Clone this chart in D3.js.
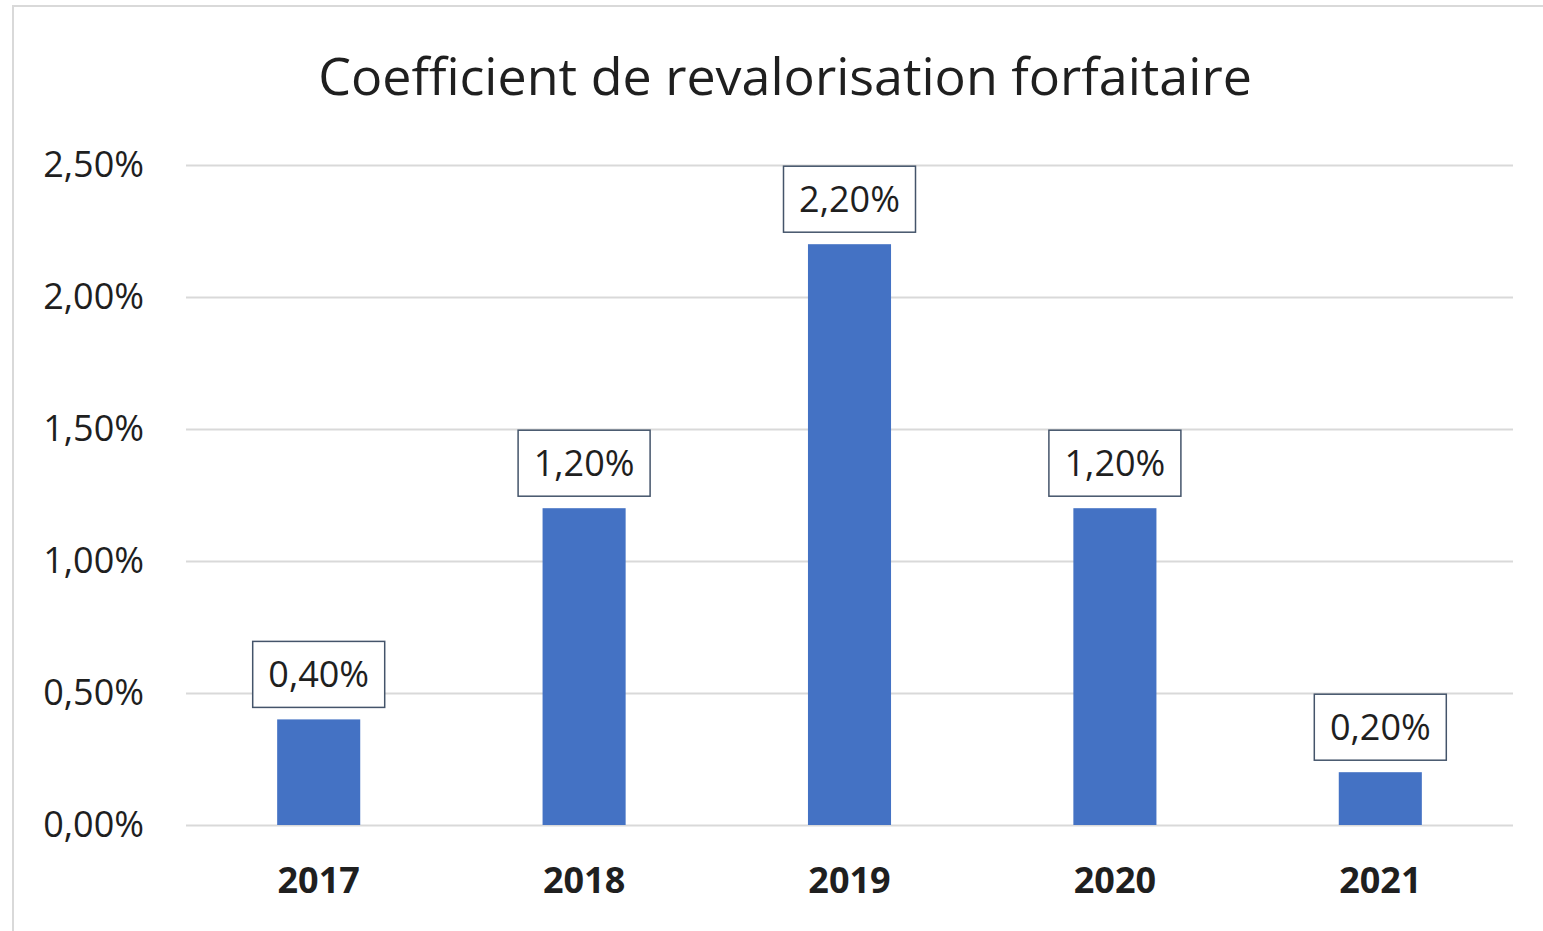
<!DOCTYPE html>
<html>
<head>
<meta charset="utf-8">
<script src="https://cdn.jsdelivr.net/npm/d3@7"></script>
<style>
  body { margin: 0; background: #fff; }
  text { font-family: "Open Sans", sans-serif; fill: #1f1f1f; }
</style>
</head>
<body>
<div id="chart"></div>
<script>
const TITLE = "Coefficient de revalorisation forfaitaire"
const years = ["2017", "2018", "2019", "2020", "2021"]
const values = [0.004, 0.012, 0.022, 0.012, 0.002]
const yTicks = [0, 0.005, 0.01, 0.015, 0.02, 0.025]

const W = 1543
const H = 931
const PLOT = { LEFT: 186, RIGHT: 1513, TOP: 165, BOTTOM: 825 }
const BAR_COLOR = "#4472C4"
const GRID_COLOR = "#d9d9d9"

const fr = d3.formatLocale({ decimal: ",", thousands: " ", grouping: [3], currency: ["", " €"] })
const pct = fr.format(".2%")

const svg = d3.select("#chart")
              .append("svg")
              .attr("width", W)
              .attr("height", H)

// chart frame
svg.append("rect")
   .attr("x", 13)
   .attr("y", 6)
   .attr("width", W + 20)
   .attr("height", H + 20)
   .attr("fill", "#fff")
   .attr("stroke", GRID_COLOR)
   .attr("stroke-width", 2)

svg.append("text")
   .attr("x", 785)
   .attr("y", 95)
   .attr("text-anchor", "middle")
   .style("font-size", "52px")
   .text(TITLE)

const x = d3.scaleBand()
            .domain(years)
            .range([PLOT.LEFT, PLOT.RIGHT])
            .paddingInner(0.687)
            .paddingOuter(0.3435)

const y = d3.scaleLinear()
            .domain([0, 0.025])
            .range([PLOT.BOTTOM, PLOT.TOP])

const yAxis = svg.append("g")
                 .attr("transform", `translate(${PLOT.LEFT}, 0)`)
                 .call(d3.axisLeft(y)
                         .tickValues(yTicks)
                         .tickFormat(pct)
                         .tickSize(-(PLOT.RIGHT - PLOT.LEFT))
                         .tickPadding(42))
yAxis.select(".domain").remove()
yAxis.selectAll("line")
     .attr("stroke", GRID_COLOR)
     .attr("stroke-width", 2)
yAxis.selectAll("text")
     .style("font-size", "36px")
     .attr("fill", "#1f1f1f")

const xAxis = svg.append("g")
                 .attr("transform", `translate(0, ${PLOT.BOTTOM})`)
                 .call(d3.axisBottom(x).tickSize(0).tickPadding(42))
xAxis.select(".domain").remove()
xAxis.selectAll("text")
     .style("font-size", "36px")
     .style("font-weight", "bold")
     .attr("fill", "#0d0d0d")

svg.selectAll(".bar")
   .data(values)
   .join("rect")
   .attr("class", "bar")
   .attr("x", (d, i) => x(years[i]))
   .attr("y", d => y(d))
   .attr("width", x.bandwidth())
   .attr("height", d => y(0) - y(d))
   .attr("fill", BAR_COLOR)

// data labels in boxes
const BOX_W = 132
const BOX_H = 66
const BOX_GAP = 12

const labels = svg.selectAll(".lbl")
                  .data(values)
                  .join("g")
                  .attr("class", "lbl")
                  .attr("transform", (d, i) =>
                    `translate(${x(years[i]) + x.bandwidth() / 2}, ${y(d) - BOX_GAP - BOX_H / 2})`)

labels.append("rect")
      .attr("x", -BOX_W / 2)
      .attr("y", -BOX_H / 2)
      .attr("width", BOX_W)
      .attr("height", BOX_H)
      .attr("fill", "#fff")
      .attr("stroke", "#44546A")
      .attr("stroke-width", 1.5)

labels.append("text")
      .attr("text-anchor", "middle")
      .attr("y", 13)
      .style("font-size", "36px")
      .text(d => pct(d))
</script>
</body>
</html>
